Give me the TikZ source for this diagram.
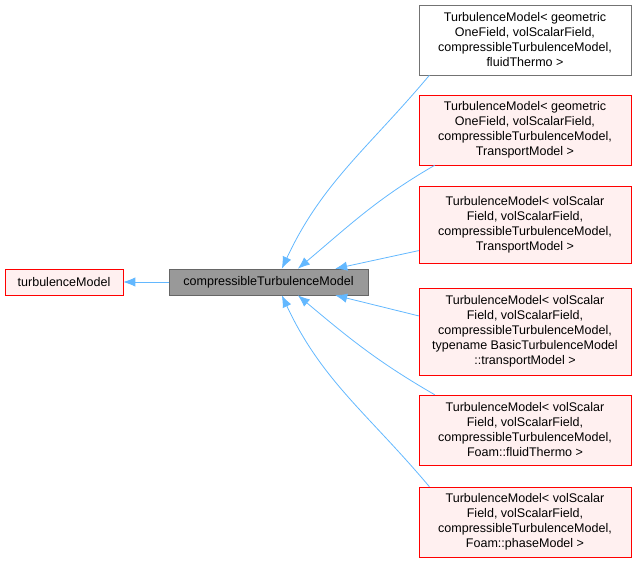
\documentclass[tikz,border=0pt]{standalone}
\usepackage{fontspec}
\setmainfont{Liberation Sans}
\usetikzlibrary{arrows.meta}
\definecolor{edgeblue}{HTML}{63B8FF}
\definecolor{redline}{HTML}{FF0000}
\definecolor{redfill}{HTML}{FFF0F0}
\tikzset{
  basebox/.style={draw, align=center, inner sep=0pt, font=\fontsize{9.4}{11.25}\selectfont},
  classbox/.style={basebox, draw=redline, fill=redfill},
  plainbox/.style={basebox, draw=black!55, fill=white},
  mainbox/.style={basebox, draw=black!60, fill=black!40},
  edge/.style={draw=edgeblue, semithick, {Latex[length=9pt,width=7pt]}-}
}
\begin{document}
\begin{tikzpicture}[x=0.75pt,y=-0.75pt]
\useasboundingbox (0,0) rectangle (636,571);
% Draw diagram elements
\node (base) [classbox, minimum width=88.5pt, minimum height=19.5pt] at (64,282) {turbulenceModel};
\node (comp) [mainbox, minimum width=149pt, minimum height=19.5pt] at (268.5,282) {compressibleTurbulenceModel};
\node (r1) [plainbox, minimum width=159pt, minimum height=52.5pt] at (525,40) {TurbulenceModel\textless{} geometric\\OneField, volScalarField,\\compressibleTurbulenceModel,\\fluidThermo \textgreater};
\node (r2) [classbox, minimum width=159pt, minimum height=52.5pt] at (525,130) {TurbulenceModel\textless{} geometric\\OneField, volScalarField,\\compressibleTurbulenceModel,\\TransportModel \textgreater};
\node (r3) [classbox, minimum width=159pt, minimum height=58pt] at (525,225) {TurbulenceModel\textless{} volScalar\\Field, volScalarField,\\compressibleTurbulenceModel,\\TransportModel \textgreater};
\node (r4) [classbox, minimum width=159pt, minimum height=65pt] at (525,331.5) {TurbulenceModel\textless{} volScalar\\Field, volScalarField,\\compressibleTurbulenceModel,\\typename BasicTurbulenceModel\\::transportModel \textgreater};
\node (r5) [classbox, minimum width=159pt, minimum height=52.5pt] at (525,430) {TurbulenceModel\textless{} volScalar\\Field, volScalarField,\\compressibleTurbulenceModel,\\Foam::fluidThermo \textgreater};
\node (r6) [classbox, minimum width=159pt, minimum height=52.5pt] at (525,522) {TurbulenceModel\textless{} volScalar\\Field, volScalarField,\\compressibleTurbulenceModel,\\Foam::phaseModel \textgreater};

% Draw arrows between elements
\path [edge] (base) -- (comp);
\path [edge] ([xshift=10pt]comp.north) to[out=65,in=-130] ([xshift=8pt]r1.south west);
\path [edge] ([xshift=22pt]comp.north) to[out=40,in=-150] ([xshift=12pt]r2.south west);
\path [edge] ([xshift=50pt]comp.north) -- ([yshift=10pt]r3.south west);
\path [edge] ([xshift=50pt]comp.south) -- ([yshift=-21pt]r4.north west);
\path [edge] ([xshift=22pt]comp.south) to[out=-40,in=150] ([xshift=12pt]r5.north west);
\path [edge] ([xshift=10pt]comp.south) to[out=-65,in=130] ([xshift=8pt]r6.north west);
\end{tikzpicture}
\end{document}
